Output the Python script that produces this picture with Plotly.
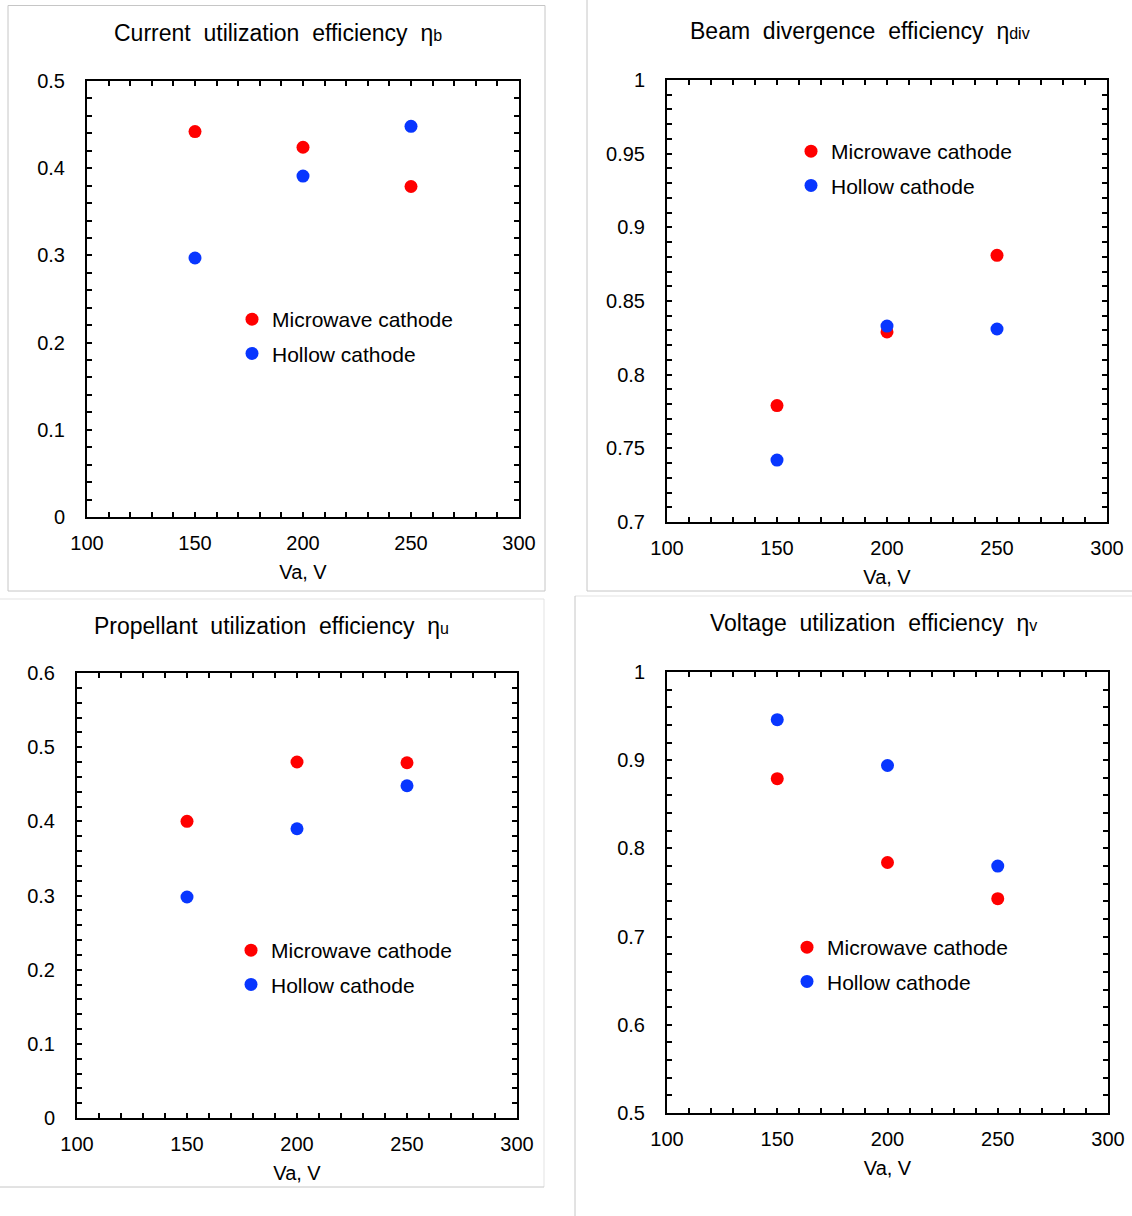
import plotly.graph_objects as go

W, H = 1132, 1216

# ---------------- data ----------------
va = [150, 200, 250]
series_names = ["Microwave cathode", "Hollow cathode"]

# Current utilization efficiency
eta_b_mw = [0.442, 0.424, 0.379]
eta_b_hc = [0.297, 0.391, 0.448]
# Beam divergence efficiency
eta_div_mw = [0.779, 0.829, 0.881]
eta_div_hc = [0.742, 0.833, 0.831]
# Propellant utilization efficiency
eta_u_mw = [0.400, 0.480, 0.479]
eta_u_hc = [0.298, 0.390, 0.448]
# Voltage utilization efficiency
eta_v_mw = [0.879, 0.784, 0.743]
eta_v_hc = [0.946, 0.894, 0.780]

x_tickvals = [100, 150, 200, 250, 300]
x_ticktext = ["100", "150", "200", "250", "300"]
yb_tickvals = [0, 0.1, 0.2, 0.3, 0.4, 0.5]
yb_ticktext = ["0", "0.1", "0.2", "0.3", "0.4", "0.5"]
ydiv_tickvals = [0.7, 0.75, 0.8, 0.85, 0.9, 0.95, 1.0]
ydiv_ticktext = ["0.7", "0.75", "0.8", "0.85", "0.9", "0.95", "1"]
yu_tickvals = [0, 0.1, 0.2, 0.3, 0.4, 0.5, 0.6]
yu_ticktext = ["0", "0.1", "0.2", "0.3", "0.4", "0.5", "0.6"]
yv_tickvals = [0.5, 0.6, 0.7, 0.8, 0.9, 1.0]
yv_ticktext = ["0.5", "0.6", "0.7", "0.8", "0.9", "1"]

RED = "#ff0000"
BLUE = "#0836ff"
FONT = "Liberation Sans, Arial, sans-serif"
SP = "\u00a0 "

titles = [
    f"Current{SP}utilization{SP}efficiency{SP}η<span style='font-size:16px'>b</span>",
    f"Beam{SP}divergence{SP}efficiency{SP}η<span style='font-size:16px'>div</span>",
    f"Propellant{SP}utilization{SP}efficiency{SP}η<span style='font-size:16px'>u</span>",
    f"Voltage{SP}utilization{SP}efficiency{SP}η<span style='font-size:16px'>v</span>",
]

# ---------------- layout geometry (pixels) ----------------
def px(x):
    return x / W

def py(y):
    return 1 - y / H

panels = [
    dict(box=(87, 81, 519, 517), yr=[0, 0.5], tv=yb_tickvals, tt=yb_ticktext, mdt=0.02,
         title=(278, 33), leg=(232, 299), mw=eta_b_mw, hc=eta_b_hc),
    dict(box=(667, 80, 1107, 522), yr=[0.7, 1.0], tv=ydiv_tickvals, tt=ydiv_ticktext, mdt=0.01,
         title=(860, 31), leg=(791, 131), mw=eta_div_mw, hc=eta_div_hc),
    dict(box=(77, 673, 517, 1118), yr=[0, 0.6], tv=yu_tickvals, tt=yu_ticktext, mdt=0.02,
         title=(271, 626), leg=(231, 930), mw=eta_u_mw, hc=eta_u_hc),
    dict(box=(667, 672, 1108, 1113), yr=[0.5, 1.0], tv=yv_tickvals, tt=yv_ticktext, mdt=0.02,
         title=(873, 623), leg=(787, 927), mw=eta_v_mw, hc=eta_v_hc),
]

fig = go.Figure()
annotations = []
layout_axes = {}

for i, p in enumerate(panels, start=1):
    sfx = "" if i == 1 else str(i)
    l, t, r, b = p["box"]
    legname = "legend" if i == 1 else f"legend{i}"
    for name, vals, col in [(series_names[0], p["mw"], RED), (series_names[1], p["hc"], BLUE)]:
        fig.add_trace(go.Scatter(
            x=va, y=vals, mode="markers", name=name,
            marker=dict(color=col, size=13, line=dict(width=0)),
            xaxis=f"x{sfx}", yaxis=f"y{sfx}", legend=legname,
            legendgroup=f"{name}{i}", cliponaxis=False,
        ))
    common = dict(
        showline=True, linecolor="black", linewidth=2, mirror="allticks",
        ticks="inside", ticklen=5, tickwidth=1.5, tickcolor="black",
        showgrid=False, zeroline=False, tickmode="array", automargin=False,
        tickfont=dict(family=FONT, size=20, color="black"),
    )
    layout_axes[f"xaxis{sfx}"] = dict(
        common, domain=[px(l), px(r)], range=[100, 300], anchor=f"y{sfx}",
        tickvals=x_tickvals, ticktext=x_ticktext, ticklabelstandoff=7,
        minor=dict(tickmode="linear", tick0=100, dtick=10, ticks="inside", ticklen=5,
                   tickwidth=1.5, tickcolor="black"),
        title=dict(text="Va, V", font=dict(family=FONT, size=20, color="black"), standoff=12),
    )
    layout_axes[f"yaxis{sfx}"] = dict(
        common, domain=[py(b), py(t)], range=p["yr"], anchor=f"x{sfx}",
        tickvals=p["tv"], ticktext=p["tt"], ticklabelstandoff=16,
        minor=dict(tickmode="linear", tick0=0, dtick=p["mdt"], ticks="inside", ticklen=5,
                   tickwidth=1.5, tickcolor="black"),
    )
    tx, ty = p["title"]
    annotations.append(dict(
        text=titles[i - 1], x=px(tx), y=py(ty), xref="paper", yref="paper",
        xanchor="center", yanchor="middle", showarrow=False,
        font=dict(family=FONT, size=23, color="black"),
    ))
    lx, ly = p["leg"]
    layout_axes[legname] = dict(
        x=px(lx), y=py(ly), xanchor="left", yanchor="top",
        bgcolor="rgba(0,0,0,0)", borderwidth=0, traceorder="grouped",
        tracegroupgap=4, font=dict(family=FONT, size=21, color="black"),
    )

# panel frames (light gray borders of the four chart images)
GR = "#c6c6c6"
GR2 = "#e3e3e3"

def seg(x0, y0, x1, y1, col):
    return dict(type="line", xref="paper", yref="paper", x0=px(x0), x1=px(x1),
                y0=py(y0), y1=py(y1), line=dict(color=col, width=1), layer="below")

shapes = [
    seg(8, 5.5, 545, 5.5, GR), seg(8, 591, 545, 591, GR),
    seg(8, 5.5, 8, 591, GR), seg(545, 5.5, 545, 591, GR),
    seg(587, 0, 587, 591, GR), seg(587, 591, 1132, 591, GR),
    seg(0, 599, 544, 599, GR2), seg(544, 599, 544, 1187, GR2), seg(0, 1187, 544, 1187, GR),
    seg(575, 596, 1132, 596, GR2), seg(575, 596, 575, 1216, GR),
]

fig.update_layout(
    width=W, height=H, margin=dict(l=0, r=0, t=0, b=0, pad=0, autoexpand=False),
    paper_bgcolor="white", plot_bgcolor="white",
    annotations=annotations, shapes=shapes, showlegend=True,
    font=dict(family=FONT, color="black"),
    **layout_axes,
)

fig.write_html("out.html")
